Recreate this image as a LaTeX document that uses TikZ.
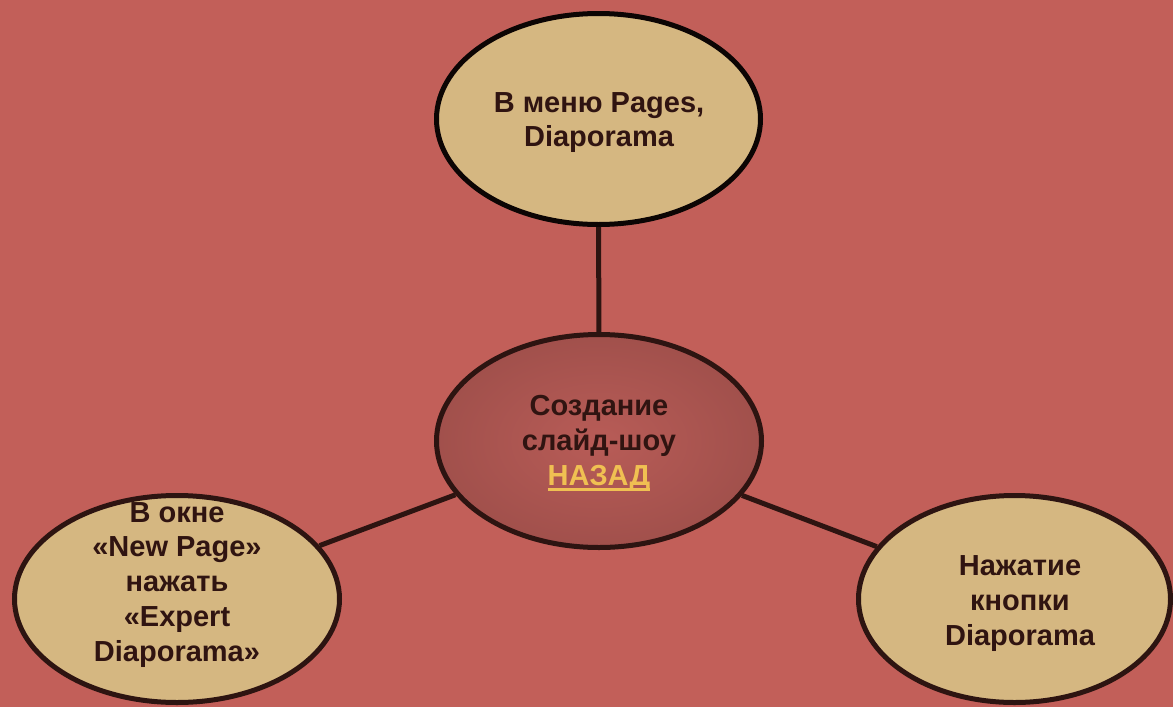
\documentclass[tikz,border=0pt]{standalone}
\usepackage{fontspec}
\setmainfont{Liberation Sans}
\usetikzlibrary{shapes.geometric}
\definecolor{bg}{RGB}{194,95,89}
\definecolor{beige}{RGB}{213,183,129}
\definecolor{edge}{RGB}{45,20,17}
\definecolor{topedge}{RGB}{12,5,4}
\definecolor{ink}{RGB}{48,20,17}
\definecolor{gold}{RGB}{240,192,82}
\definecolor{cin}{RGB}{184,92,87}
\definecolor{cout}{RGB}{138,68,64}
\pgfdeclareradialshading{ctrshade}{\pgfpoint{0bp}{0bp}}{color(0bp)=(cin); color(50bp)=(cout); color(80bp)=(cout)}
\newsavebox\nzbox
\tikzset{
  bubble/.style={ellipse, draw=edge, line width=5pt, fill=beige, inner sep=0pt},
  hub/.style={ellipse, draw=edge, line width=5pt, shading=ctrshade, inner sep=0pt},
  label text/.style={text=ink, align=center, inner sep=0pt,
    font=\fontsize{29}{34.75}\selectfont\bfseries},
  link/.style={draw=edge, line width=5pt}
}
\begin{document}
\begin{tikzpicture}[x=1pt,y=-1pt]
\useasboundingbox (0,0) rectangle (1173,707);
\fill[bg] (0,0) rectangle (1173,707);
\node[hub, minimum width=325pt, minimum height=213pt] (c) at (599,441) {};
\node[bubble, draw=topedge, minimum width=324pt, minimum height=211pt] (t) at (598.5,119) {};
\node[bubble, minimum width=325pt, minimum height=207pt] (l) at (177,599) {};
\node[bubble, minimum width=312pt, minimum height=207pt] (r) at (1014.5,599) {};
\draw[link] (c) -- (t);
\draw[link] (c) -- (l);
\draw[link] (c) -- (r);
\node[label text] (tt) at (599,122.5) {В меню Pages,\\Diaporama};
\node[label text, font=\fontsize{29}{35}\selectfont\bfseries] (ct) at (599,443) {Создание\\слайд-шоу\\{\color{gold}\sbox\nzbox{НАЗАД}\rlap{\usebox\nzbox}\rule[-6pt]{\wd\nzbox}{3pt}}};
\node[label text] (lt) at (177,584.7) {В окне\\«New Page»\\нажать\\«Expert\\Diaporama»};
\node[label text] (rt) at (1020,603.7) {Нажатие\\кнопки\\Diaporama};
\end{tikzpicture}
\end{document}
